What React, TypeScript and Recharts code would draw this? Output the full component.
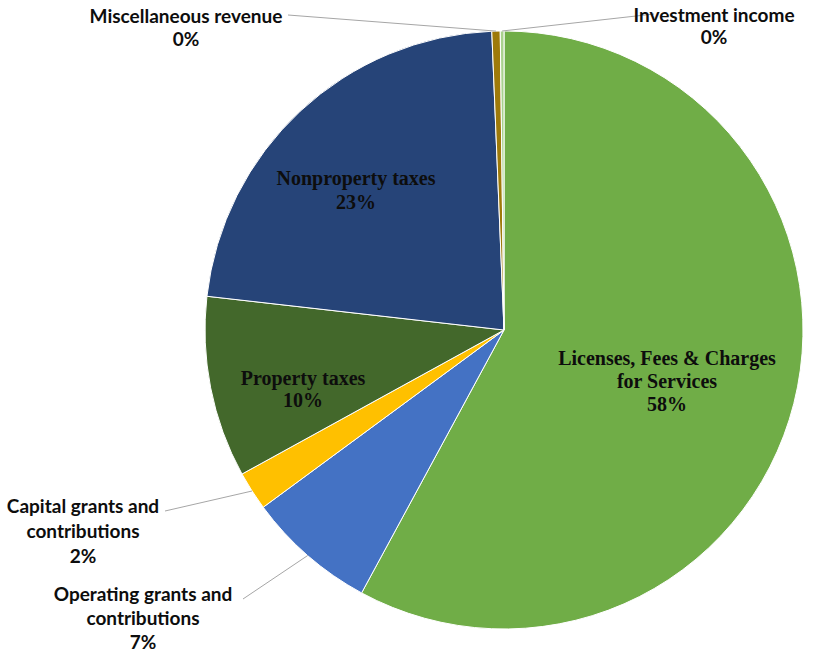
import { PieChart, Pie, Cell } from 'recharts'

const NAMES = [
  'Licenses, Fees & Charges for Services',
  'Operating grants and contributions',
  'Capital grants and contributions',
  'Property taxes',
  'Nonproperty taxes',
  'Miscellaneous revenue',
  'Investment income',
]
const VALUES = [57.9, 7.0, 2.1, 9.8, 22.55, 0.45, 0.2]
const COLORS = ['#70AD47', '#4472C4', '#FFC000', '#43682B', '#264478', '#9E7A0A', '#A9D18E']

// how each label is laid out: text lines, block center relative to pie center, inside or with a leader line
const LABELS: any[] = [
  { lines: ['Licenses, Fees & Charges', 'for Services'], dx: 163, dy: 51, inside: true, lh: 23 },
  { lines: ['Operating grants and', 'contributions'], dx: -361, dy: 287, lineFrom: [243, 269], lh: 24 },
  { lines: ['Capital grants and', 'contributions'], dx: -421, dy: 200, lineFrom: [165, 181], lh: 25 },
  { lines: ['Property taxes'], dx: -201, dy: 59, inside: true, lh: 22.5 },
  { lines: ['Nonproperty taxes'], dx: -148, dy: -140, inside: true, lh: 24 },
  { lines: ['Miscellaneous revenue'], dx: -318, dy: -303, lineFrom: [288, -315], lh: 23 },
  { lines: ['Investment income'], dx: 210, dy: -305, lineFrom: [654, -316], lh: 22 },
]

const data = NAMES.map((n, i) => ({ name: n, value: VALUES[i] }))

const RAD = Math.PI / 180

function renderLabel(p: any) {
  const { cx, cy, midAngle, outerRadius, percent, index } = p
  const cfg = LABELS[index]
  const lines = [...cfg.lines, `${Math.round(percent * 100)}%`]
  const x = cx + cfg.dx
  const y0 = cy + cfg.dy - ((lines.length - 1) * cfg.lh) / 2
  const font = cfg.inside
    ? { fontFamily: '"Liberation Serif", serif', fontSize: 20, fill: '#0d0d0d' }
    : { fontFamily: 'Lato, sans-serif', fontSize: 19, fill: '#0d0d0d' }
  let line = null
  if (cfg.lineFrom) {
    const ex = cx + outerRadius * Math.cos(-midAngle * RAD)
    const ey = cy + outerRadius * Math.sin(-midAngle * RAD)
    line = <line x1={cfg.lineFrom[0]} y1={cy + cfg.lineFrom[1]} x2={ex} y2={ey} stroke="#A6A6A6" strokeWidth={1} />
  }
  return (
    <g key={`lbl-${index}`}>
      {line}
      {lines.map((t, i) => (
        <text key={i} x={x} y={y0 + i * cfg.lh} textAnchor="middle" dominantBaseline="central" fontWeight="bold" {...font}>
          {t}
        </text>
      ))}
    </g>
  )
}

export default function App() {
  return (
    <div style={{ position: 'absolute', left: 0, top: 0, width: 822, height: 654, background: '#fff' }}>
      <PieChart width={822} height={654} margin={{ top: 0, right: 0, bottom: 0, left: 0 }}>
        <Pie
          data={data}
          dataKey="value"
          nameKey="name"
          cx={504}
          cy={330}
          outerRadius={299}
          startAngle={90}
          endAngle={-270}
          stroke="#fff"
          strokeWidth={1}
          label={renderLabel}
          labelLine={false}
          isAnimationActive={false}
        >
          {data.map((d, i) => (
            <Cell key={d.name} fill={COLORS[i]} />
          ))}
        </Pie>
      </PieChart>
    </div>
  )
}
